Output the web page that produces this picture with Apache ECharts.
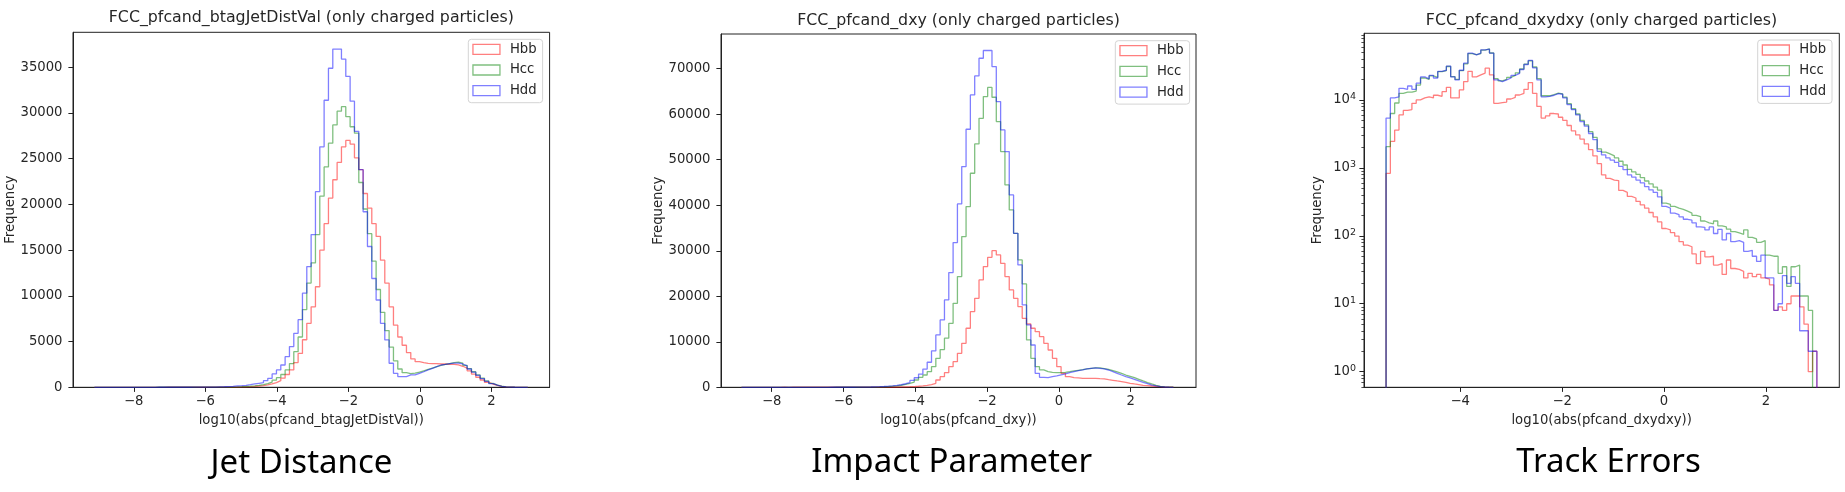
<!DOCTYPE html>
<html>
<head>
<meta charset="utf-8">
<script src="https://cdn.jsdelivr.net/npm/echarts@6/dist/echarts.min.js"></script>
<style>
html, body { margin: 0; padding: 0; background: #fff; }
#main { width: 1845px; height: 492px; }
</style>
</head>
<body>
<div id="main"></div>
<script>
// histogram bins: 100 bins per panel, first edge + bin width
const jdStart = -9.10, jdWidth = 0.1212;
const ipStart = -8.84, ipWidth = 0.1203;
const teStart = -5.457, teWidth = 0.08457;

// Jet Distance (btagJetDistVal)
const jdHbb = [0,1,0,0,1,0,1,1,0,1, 1,1,2,1,2,2,3,3,3,4, 4,5,5,6,7,8,9,10,11,12,
  14,20,28,40,55,75,100,140,190,260, 370,520,720,1000,1400,1900,2700,3700,5200,7000,
  8800,11000,15000,17900,20700,22700,24600,26300,27000,26600, 25100,23800,21200,19600,17900,16500,13900,11400,8800,6800,
  5500,4600,3800,3100,2800,2700,2620,2600,2600,2550, 2550,2500,2500,2450,2300,2100,1800,1450,1100,800,
  550,350,200,100,45,15,3,0,0,0];
const jdHcc = [0,0,0,0,0,1,0,1,1,1, 1,2,2,2,3,3,4,4,5,6, 6,7,8,9,10,11,12,14,16,18,
  20,30,45,65,90,120,160,220,300,400, 560,780,1050,1400,1900,2600,3900,5500,8500,11400,
  13600,16700,20900,24100,26700,28700,30200,30700,29600,28500, 27800,22400,19500,16800,13800,10700,8200,6200,4400,2900,
  2000,1600,1500,1550,1650,1800,1950,2100,2250,2400, 2500,2600,2700,2750,2650,2400,2050,1700,1350,1000,
  700,430,240,120,50,20,5,0,0,0];
const jdHdd = [0,0,0,0,1,0,1,0,1,1, 2,1,2,2,3,3,4,4,5,6, 7,8,10,12,14,17,20,30,45,60,
  80,110,145,180,220,290,365,440,510,730, 985,1460,1900,2440,3350,4450,5900,7400,10300,13200,
  16700,21400,26300,31400,34900,37000,37000,35900,34000,31300, 28000,23800,19200,15400,11900,9550,7000,5180,2630,1530,
  1170,1170,1350,1350,1530,1700,1900,2080,2260,2440, 2500,2600,2650,2650,2550,2350,2000,1650,1300,950,
  650,400,230,110,50,20,5,0,0,0];

// Impact Parameter (dxy)
const ipHbb = [2,3,2,4,3,4,5,4,5,6, 5,6,7,7,8,9,9,10,11,12, 13,14,15,17,19,21,23,26,29,33,
  37,42,48,55,62,70,85,100,130,170, 230,320,440,600,880,1600,2340,3220,4540,5640,
  7470,9670,12970,16630,19560,23590,26520,28570,30030,29080, 27250,24320,21390,19560,17730,15160,13920,12970,12230,11130,
  9670,8200,6370,4540,3080,2340,2120,2050,1980,1980, 1980,1980,1900,1830,1680,1540,1390,1245,1100,880,
  730,585,440,365,290,220,150,70,30,10];
const ipHcc = [0,0,0,0,0,0,0,1,0,1, 1,1,1,2,2,2,3,3,4,4, 5,6,7,8,10,12,15,18,20,35,
  55,80,120,170,240,330,450,620,850,1150, 1600,2200,2700,3440,4540,6370,8300,10800,14060,18460,
  24320,33110,39700,47030,53470,59110,63870,65900,63730,58380, 51790,44460,38970,33840,27980,22710,10400,6370,4540,3810,
  3440,3300,3220,3220,3300,3440,3590,3740,3880,4030, 4175,4250,4250,4100,3950,3660,3370,3080,2700,2420,
  2120,1760,1390,1025,730,440,220,110,40,10];
const ipHdd = [0,0,0,0,0,0,1,0,1,1, 1,1,2,2,2,3,3,4,4,5, 6,7,8,10,12,15,25,35,50,70,
  95,130,180,240,320,420,560,780,1050,1500, 2100,2900,4000,5500,8000,11500,14800,19190,25200,31790,
  40290,48490,56700,64240,68420,72300,74000,74000,70470,62780, 56550,51790,42270,33840,26880,18090,13700,9300,3080,2200,
  2120,2340,2490,2710,2930,3220,3440,3660,3810,4030, 4175,4250,4175,4030,3800,3440,3080,2700,2340,2050,
  1760,1390,1100,800,500,290,150,70,20,5];

// Track Errors (dxydxy), log scale
const teHbb = [830,2450,3600,6000,7000,7200,8900,10000,10700,11100, 10700,11700,11300,13200,15300,10700,10700,14000,18600,26300,
  21800,23300,24800,29300,23300,8900,9100,9300,10300,10900, 11800,12500,14300,18000,12500,8000,5400,5800,6300,6200,
  5550,5000,4200,3500,3050,2650,2250,1850,1500,1150, 790,700,660,650,465,435,380,360,320,285,
  255,220,190,160,128,122,111,99,82,73, 69,54,39,59,49,50,37,39,27,44,
  33,32,30,24,28,25,27,24,23,19, 8,9,8,10,13,13,9,5,1,2];
const teHcc = [2050,6300,9000,12500,13000,13000,13500,16500,21000,20000, 22500,21500,26000,27000,31000,22000,20000,27000,34000,48000,
  46500,48000,54000,56500,49000,20500,19000,20000,21500,23000, 25000,28500,33500,37500,30500,20500,11500,11500,12000,12600,
  12300,11000,8800,7400,6200,5000,4300,3400,2800,1900, 1700,1600,1500,1400,1250,1100,950,870,800,720,
  640,580,520,470,302,290,270,255,245,230, 215,200,192,165,155,150,165,140,135,125,
  115,110,105,122,95,90,80,85,52,50, 50,28,35,18,35,37,13,13,8,0];
const teHdd = [5400,10700,11100,14800,14300,16000,14300,17600,21800,20400, 22900,21000,26300,27300,31500,21800,19700,27300,34700,48800,
  46000,48800,54500,55800,48800,19700,18600,19700,21000,22900, 24500,28000,33200,38200,29600,19700,11100,11300,11700,12400,
  12100,10700,8500,7200,6000,4800,4100,3200,2600,1750, 1550,1400,1300,1200,1050,940,790,730,660,600,
  530,475,435,375,270,255,215,205,190,175, 170,155,135,133,122,135,108,124,87,108,
  82,85,80,59,61,50,42,52,24,24, 8,10,26,20,25,20,4,4,2,2];

// tick labels
const jdXTicks = [-8, -6, -4, -2, 0, 2];
const jdYTicks = [0, 5000, 10000, 15000, 20000, 25000, 30000, 35000];
const ipXTicks = [-8, -6, -4, -2, 0, 2];
const ipYTicks = [0, 10000, 20000, 30000, 40000, 50000, 60000, 70000];
const teXTicks = [-4, -2, 0, 2];
const teYTicks = [1, 10, 100, 1000, 10000];

const names = ["Hbb", "Hcc", "Hdd"];
const colors = ["rgba(255,0,0,0.5)", "rgba(0,128,0,0.5)", "rgba(0,0,255,0.5)"];
const titles = [
	"FCC_pfcand_btagJetDistVal (only charged particles)",
	"FCC_pfcand_dxy (only charged particles)",
	"FCC_pfcand_dxydxy (only charged particles)"
];
const xNames = ["log10(abs(pfcand_btagJetDistVal))", "log10(abs(pfcand_dxy))", "log10(abs(pfcand_dxydxy))"];
const captions = ["Jet Distance", "Impact Parameter", "Track Errors"];

const FONT = "DejaVu Sans";
const TXT = "#262626";
const INK = "#222";
const teMin = 0.589, teMax = 95500;

// minor ticks of the log axis (2..9 x 10^k)
const teMinor = [];
for (let e = -1; e <= 4; e++) {
	for (let m = 2; m <= 9; m++) {
		const v = m * Math.pow(10, e);
		if (v > teMin && v < teMax) teMinor.push(v);
	}
}

// histogram -> step outline, like histtype="step"
function stepData(start, width, counts, floor) {
	const pts = [[start, floor]];
	counts.forEach((c, i) => pts.push([start + i * width, Math.max(c, floor)]));
	const end = start + counts.length * width;
	pts.push([end, Math.max(counts[counts.length - 1], floor)]);
	pts.push([end, floor]);
	return pts;
}

const minus = (v) => String(v).replace("-", "\u2212");

function xAxisOf(gi, min, max, ticks, name) {
	return {
		type: "value", gridIndex: gi, min: min, max: max,
		name: name, nameLocation: "middle", nameGap: 27,
		nameTextStyle: { fontFamily: FONT, fontSize: 13.2, color: TXT },
		axisLine: { show: true, onZero: false, lineStyle: { color: INK, width: 1 } },
		axisTick: { show: true, length: 4.6, lineStyle: { color: INK, width: 1 }, customValues: ticks },
		axisLabel: { customValues: ticks, margin: 8, fontFamily: FONT, fontSize: 13.2, color: TXT, formatter: minus },
		splitLine: { show: false }
	};
}

function yAxisOf(gi, min, max, ticks, gap) {
	return {
		type: "value", gridIndex: gi, min: min, max: max, position: "left",
		name: "Frequency", nameLocation: "middle", nameGap: gap, nameRotate: 90,
		nameTextStyle: { fontFamily: FONT, fontSize: 13.2, color: TXT },
		axisLine: { show: true, onZero: false, lineStyle: { color: INK, width: 1 } },
		axisTick: { show: true, length: 4.6, lineStyle: { color: INK, width: 1 }, customValues: ticks },
		axisLabel: { customValues: ticks, margin: 10.5, fontFamily: FONT, fontSize: 13.2, color: TXT, formatter: (v) => String(v) },
		splitLine: { show: false }
	};
}

function legendOf(left, top) {
	return {
		orient: "vertical", left: left, top: top, selectedMode: false,
		backgroundColor: "rgba(255,255,255,0.8)",
		borderColor: "#d4d4d4", borderWidth: 1, borderRadius: 3,
		padding: [3, 6, 5, 4],
		itemWidth: 27, itemHeight: 10, itemGap: 6.7,
		textStyle: { fontFamily: FONT, fontSize: 13.2, color: TXT, lineHeight: 14, padding: [0, 0, 0, 5] },
		data: names.map((n, i) => ({
			name: n, icon: "rect",
			itemStyle: { color: "rgba(255,255,255,0)", borderColor: colors[i], borderWidth: 1.3 }
		}))
	};
}

function seriesOf(gi, start, width, list, floor) {
	return list.map((counts, i) => ({
		type: "line", name: names[i], xAxisIndex: gi, yAxisIndex: gi,
		data: stepData(start, width, counts, floor),
		step: "end", symbol: "none", showSymbol: false, clip: true, silent: true,
		lineStyle: { color: colors[i], width: 1.3 },
		itemStyle: { color: colors[i] }
	}));
}

const chart = echarts.init(document.getElementById("main"), null, { renderer: "canvas" });

const gridBox = { show: true, borderColor: INK, borderWidth: 1, backgroundColor: "transparent" };

const option = {
	animation: false,
	backgroundColor: "#fff",
	grid: [
		Object.assign({ left: 73, top: 32.3, width: 476.6, height: 355 }, gridBox),
		Object.assign({ left: 721, top: 34, width: 475, height: 353.3 }, gridBox),
		Object.assign({ left: 1364, top: 33.3, width: 475.3, height: 354 }, gridBox)
	],
	xAxis: [
		xAxisOf(0, -9.70, 3.63, jdXTicks, xNames[0]),
		xAxisOf(1, -9.41, 3.82, ipXTicks, xNames[1]),
		xAxisOf(2, -5.89, 3.44, teXTicks, xNames[2])
	],
	yAxis: [
		yAxisOf(0, 0, 38830, jdYTicks, 56),
		yAxisOf(1, 0, 77630, ipYTicks, 55.5),
		{
			type: "log", logBase: 10, gridIndex: 2, min: teMin, max: teMax, position: "left",
			name: "Frequency", nameLocation: "middle", nameGap: 40, nameRotate: 90,
			nameTextStyle: { fontFamily: FONT, fontSize: 13.2, color: TXT },
			axisLine: { show: true, onZero: false, lineStyle: { color: INK, width: 1 } },
			axisTick: { show: true, length: 4.6, lineStyle: { color: INK, width: 1 }, customValues: teYTicks },
			axisLabel: {
				customValues: teYTicks, margin: 8, fontFamily: FONT, fontSize: 13.2, color: TXT, lineHeight: 16,
				formatter: (v) => "10{sup|" + Math.round(Math.log10(v)) + "}",
				rich: { sup: { fontFamily: FONT, fontSize: 9.5, color: TXT, lineHeight: 9, verticalAlign: "top" } }
			},
			splitLine: { show: false }
		},
		{
			// minor ticks only
			type: "log", logBase: 10, gridIndex: 2, min: teMin, max: teMax, position: "left",
			axisLine: { show: false, onZero: false },
			axisTick: { show: true, length: 2.6, lineStyle: { color: INK, width: 0.8 }, customValues: teMinor },
			axisLabel: { show: false },
			splitLine: { show: false }
		}
	],
	legend: [legendOf(468.3, 39.3), legendOf(1115.3, 40.7), legendOf(1757.7, 40)],
	series: [].concat(
		seriesOf(0, jdStart, jdWidth, [jdHbb, jdHcc, jdHdd], 0),
		seriesOf(1, ipStart, ipWidth, [ipHbb, ipHcc, ipHdd], 0),
		seriesOf(2, teStart, teWidth, [teHbb, teHcc, teHdd], 0.1)
	),
	graphic: [
		{ type: "text", x: 311.3, y: 18.3, style: { text: titles[0], fontFamily: FONT, fontSize: 15.8, fill: TXT, align: "center", verticalAlign: "middle" } },
		{ type: "text", x: 958.5, y: 20.7, style: { text: titles[1], fontFamily: FONT, fontSize: 15.8, fill: TXT, align: "center", verticalAlign: "middle" } },
		{ type: "text", x: 1601.5, y: 20.7, style: { text: titles[2], fontFamily: FONT, fontSize: 15.8, fill: TXT, align: "center", verticalAlign: "middle" } },
		{ type: "text", x: 301.5, y: 463.3, style: { text: captions[0], fontFamily: "Noto Sans", fontSize: 33, fill: "#000", align: "center", verticalAlign: "middle" } },
		{ type: "text", x: 951.7, y: 463, style: { text: captions[1], fontFamily: "Noto Sans", fontSize: 33, fill: "#000", align: "center", verticalAlign: "middle" } },
		{ type: "text", x: 1608.5, y: 463, style: { text: captions[2], fontFamily: "Noto Sans", fontSize: 33, fill: "#000", align: "center", verticalAlign: "middle" } }
	]
};

chart.setOption(option);
</script>
</body>
</html>
